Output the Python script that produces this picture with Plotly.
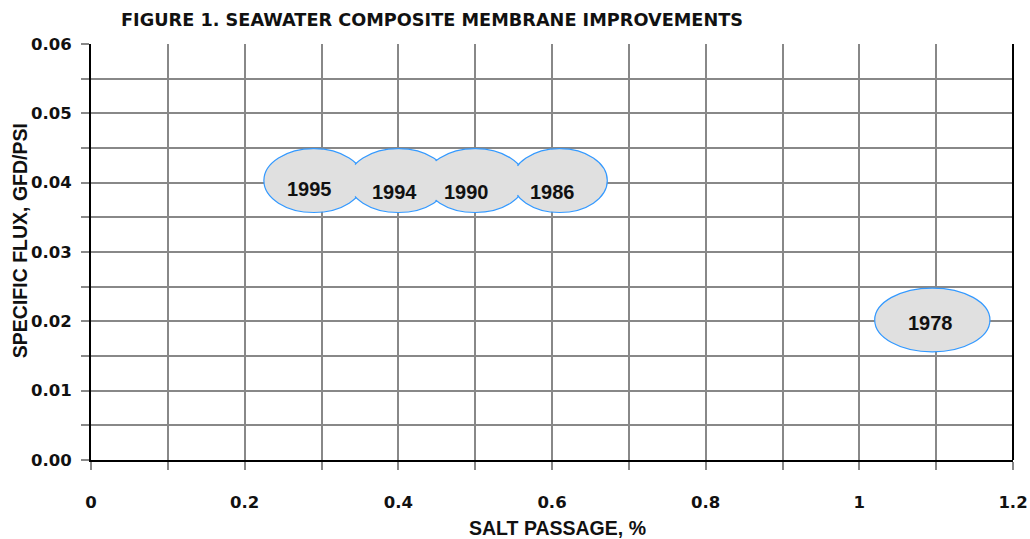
import plotly.graph_objects as go

years = ["1995", "1994", "1990", "1986", "1978"]
salt_passage = [0.29, 0.40, 0.50, 0.61, 1.095]
specific_flux = [0.0403, 0.0403, 0.0403, 0.0403, 0.0202]
half_width = [0.065, 0.065, 0.065, 0.062, 0.075]
half_height = [0.0046, 0.0046, 0.0046, 0.0046, 0.0046]
label_dx = [-0.005, -0.005, -0.011, -0.010, -0.003]
label_dy = [-0.0012, -0.0016, -0.0016, -0.0016, -0.0004]

x_ticks = [round(i * 0.1, 1) for i in range(13)]
x_labels = ["0", "", "0.2", "", "0.4", "", "0.6", "", "0.8", "", "1", "", "1.2"]
y_ticks = [round(i * 0.005, 3) for i in range(13)]
y_labels = ["0.00", "", "0.01", "", "0.02", "", "0.03", "", "0.04", "", "0.05", "", "0.06"]

FONT = "DejaVu Sans"
FONT2 = "Liberation Sans"
TXT = "#111111"
fig = go.Figure()

shapes = []
# outlines
for cx, cy, rx, ry in zip(salt_passage, specific_flux, half_width, half_height):
    shapes.append(dict(type="circle", xref="x", yref="y", x0=cx - rx, x1=cx + rx,
                       y0=cy - ry, y1=cy + ry, fillcolor="#e0e0e0",
                       line=dict(color="#3399ff", width=1.2), layer="above"))
# inner fills to merge overlapping outlines
for cx, cy, rx, ry in zip(salt_passage, specific_flux, half_width, half_height):
    shapes.append(dict(type="circle", xref="x", yref="y", x0=cx - rx + 0.0022, x1=cx + rx - 0.0022,
                       y0=cy - ry + 0.00017, y1=cy + ry - 0.00017, fillcolor="#e0e0e0",
                       line=dict(width=0), layer="above"))

annotations = []
for yr, cx, cy, dx, dy in zip(years, salt_passage, specific_flux, label_dx, label_dy):
    annotations.append(dict(text=f"<b>{yr}</b>", xref="x", yref="y", x=cx + dx, y=cy + dy,
                            xanchor="center", yanchor="middle", showarrow=False,
                            font=dict(family=FONT2, size=20, color=TXT)))

annotations += [
    dict(text="<b>FIGURE 1. SEAWATER COMPOSITE MEMBRANE IMPROVEMENTS</b>", xref="paper", yref="paper",
         x=0, y=1, xshift=28, yshift=24, xanchor="left", yanchor="middle", showarrow=False,
         font=dict(family=FONT, size=17.7, color=TXT)),
    dict(text="<b>SALT PASSAGE, %</b>", xref="paper", yref="paper", x=0.5065, y=0, yshift=-68,
         xanchor="center", yanchor="middle", showarrow=False,
         font=dict(family=FONT2, size=19.5, color=TXT)),
    dict(text="<b>SPECIFIC FLUX, GFD/PSI</b>", xref="paper", yref="paper", x=0, y=0.526, xshift=-71,
         xanchor="center", yanchor="middle", showarrow=False, textangle=-90,
         font=dict(family=FONT2, size=19.5, color=TXT)),
]

fig.update_layout(
    width=1030, height=539,
    margin=dict(l=91, r=17, t=44, b=79, autoexpand=False),
    paper_bgcolor="white", plot_bgcolor="white",
    showlegend=False,
    shapes=shapes,
    annotations=annotations,
    font=dict(family=FONT, color=TXT),
)

fig.update_xaxes(range=[0, 1.2], tickmode="array", tickvals=x_ticks,
                 ticktext=[f"<b>{t}</b>" if t else "" for t in x_labels],
                 showgrid=True, gridcolor="#888888", gridwidth=2, zeroline=False,
                 showline=True, linecolor="black", linewidth=2, automargin=False,
                 ticks="outside", ticklen=8, tickwidth=2, tickcolor="#888888",
                 ticklabelstandoff=18, tickfont=dict(family=FONT, size=16.5, color=TXT))
fig.update_yaxes(range=[0, 0.06], tickmode="array", tickvals=y_ticks,
                 ticktext=[f"<b>{t}</b>" if t else "" for t in y_labels],
                 showgrid=True, gridcolor="#888888", gridwidth=2, zeroline=False,
                 showline=True, linecolor="black", linewidth=2, automargin=False,
                 ticks="outside", ticklen=8, tickwidth=2, tickcolor="#888888",
                 ticklabelstandoff=6, tickfont=dict(family=FONT, size=16.5, color=TXT))
# right axis line
fig.add_shape(type="line", xref="paper", yref="paper", x0=1, x1=1, y0=0, y1=1,
              line=dict(color="black", width=2))

fig.write_html("out.html", config={"displayModeBar": False},
               post_script="document.body.style.margin='0';")
